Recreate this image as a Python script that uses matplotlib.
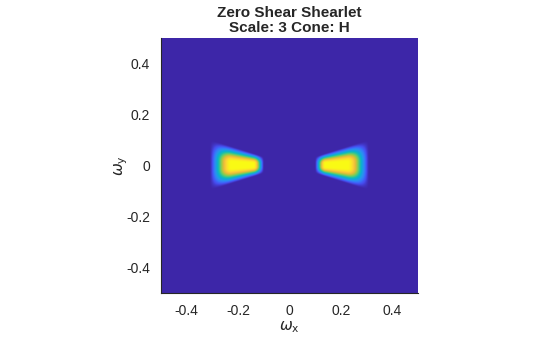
import numpy as np
import matplotlib
matplotlib.use('Agg')
from matplotlib import pyplot as plt
from matplotlib.colors import LinearSegmentedColormap

# frequency band of the scale-3 horizontal cone (|omega_x| edges)
band_edges = [0.10, 0.14, 0.225, 0.31]
# cone slope |omega_y/omega_x| where the window is flat and where it dies out
cone_edges = [0.05, 0.32]
ticks = [-0.4, -0.2, 0, 0.2, 0.4]
tick_labels = ['-0.4', '-0.2', '0', '0.2', '0.4']

# parula-like colormap
parula_pts = [
    (0.00, (0.2422, 0.1504, 0.6603)),
    (0.10, (0.2780, 0.3000, 0.9390)),
    (0.20, (0.2100, 0.4700, 0.9900)),
    (0.30, (0.1540, 0.5902, 0.9218)),
    (0.40, (0.0383, 0.6742, 0.8437)),
    (0.50, (0.0950, 0.7500, 0.6700)),
    (0.60, (0.3500, 0.8000, 0.4500)),
    (0.70, (0.6500, 0.7900, 0.2500)),
    (0.80, (0.9200, 0.7300, 0.2300)),
    (0.90, (0.9900, 0.8300, 0.2000)),
    (1.00, (0.9769, 0.9839, 0.0805)),
]
parula = LinearSegmentedColormap.from_list('parula', parula_pts)


def taper(t):
    t = np.clip(t, 0, 1)
    return 0.5 - 0.5*np.cos(np.pi*t)


n = 512
w = np.linspace(-0.5, 0.5, n)
wx, wy = np.meshgrid(w, w)
ax_abs = np.abs(wx)

a, b, c, d = band_edges
radial = taper((ax_abs - a) / (b - a)) * (1 - taper((ax_abs - c) / (d - c)))
slope = np.abs(wy) / np.maximum(ax_abs, 1e-9)
cone = 1 - taper((slope - cone_edges[0]) / (cone_edges[1] - cone_edges[0]))
psi = (radial * cone) ** 0.65

plt.rcParams['font.family'] = ['Liberation Sans', 'DejaVu Sans']
fig = plt.figure(figsize=(5.6, 3.37), dpi=100)
ax = fig.add_axes([161/560, 44/337, 257/560, 255/337])
ax.imshow(psi, cmap=parula, vmin=0, vmax=1, origin='lower',
          extent=[-0.5, 0.5, -0.5, 0.5], interpolation='bilinear', aspect='auto')

ax.set_xticks(ticks)
ax.set_xticklabels(tick_labels)
ax.set_yticks(ticks)
ax.set_yticklabels(tick_labels)
ax.tick_params(length=0, labelsize=10, colors='#262626', pad=8)
for s in ['top', 'right']:
    ax.spines[s].set_visible(False)
for s in ['left', 'bottom']:
    ax.spines[s].set_color('#262626')
    ax.spines[s].set_linewidth(0.8)

ax.set_xlabel(r'$\omega_\mathrm{x}$', fontsize=11, color='#262626', labelpad=1)
ax.set_ylabel(r'$\omega_\mathrm{y}$', fontsize=11, color='#262626', labelpad=-3)
ax.set_title('Zero Shear Shearlet\nScale: 3 Cone: H', fontsize=11,
             fontweight='bold', color='#262626', pad=4, linespacing=1.1)

fig.savefig('out.png', dpi=100)
